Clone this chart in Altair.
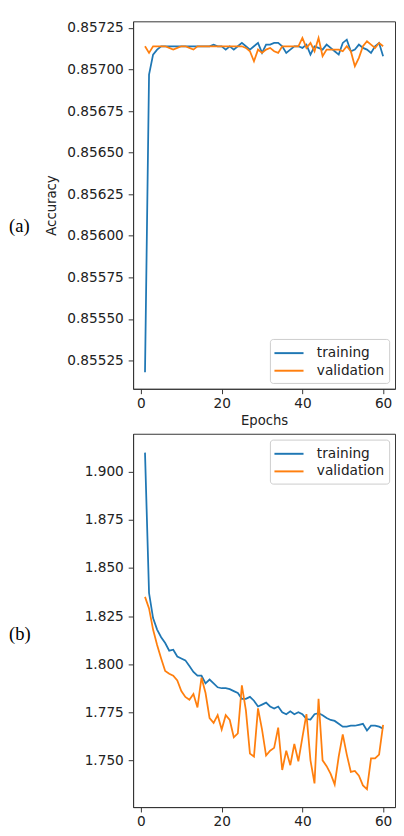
import altair as alt
import pandas as pd

epochs = list(range(1, 61))

train_acc = [0.85518, 0.85697, 0.85709, 0.85712, 0.85714, 0.85714, 0.85714, 0.85714, 0.85714, 0.85714,
             0.85714, 0.85714, 0.85714, 0.85714, 0.85714, 0.85714, 0.85714, 0.85715, 0.85714, 0.85714,
             0.85712, 0.85714, 0.85712, 0.85714, 0.85716, 0.85714, 0.85712, 0.85714, 0.85716, 0.85710,
             0.85715, 0.85715, 0.85716, 0.85716, 0.85714, 0.85710, 0.85712, 0.85714, 0.85714, 0.85713,
             0.85715, 0.85709, 0.85714, 0.85713, 0.85712, 0.85715, 0.85713, 0.85711, 0.85709, 0.85716,
             0.85718, 0.85711, 0.85712, 0.85715, 0.85713, 0.85712, 0.85710, 0.85714, 0.85716, 0.85708]
val_acc = [0.85714, 0.85710, 0.85714, 0.85714, 0.85714, 0.85714, 0.85713, 0.85712, 0.85713, 0.85714,
           0.85714, 0.85713, 0.85712, 0.85714, 0.85714, 0.85714, 0.85714, 0.85714, 0.85714, 0.85714,
           0.85714, 0.85714, 0.85714, 0.85714, 0.85714, 0.85713, 0.85711, 0.85705, 0.85712, 0.85710,
           0.85712, 0.85713, 0.85711, 0.85710, 0.85714, 0.85714, 0.85714, 0.85714, 0.85714, 0.85719,
           0.85713, 0.85716, 0.85711, 0.85719, 0.85708, 0.85712, 0.85712, 0.85712, 0.85712, 0.85711,
           0.85714, 0.85711, 0.85702, 0.85707, 0.85714, 0.85717, 0.85715, 0.85713, 0.85716, 0.85714]

train_loss = [1.910, 1.837, 1.824, 1.818, 1.814, 1.811, 1.807, 1.8075, 1.804, 1.803,
              1.802, 1.799, 1.796, 1.794, 1.794, 1.790, 1.792, 1.790, 1.788, 1.7875,
              1.7875, 1.787, 1.786, 1.785, 1.782, 1.782, 1.783, 1.781, 1.778, 1.779,
              1.780, 1.778, 1.777, 1.778, 1.775, 1.774, 1.7755, 1.774, 1.775, 1.774,
              1.7715, 1.7712, 1.774, 1.7745, 1.7735, 1.772, 1.771, 1.7705, 1.769, 1.7675,
              1.7675, 1.768, 1.768, 1.7685, 1.769, 1.7655, 1.768, 1.768, 1.7675, 1.7665]
val_loss = [1.835, 1.829, 1.818, 1.810, 1.803, 1.7965, 1.795, 1.794, 1.7915, 1.786,
            1.783, 1.7815, 1.7845, 1.7775, 1.793, 1.785, 1.772, 1.7695, 1.7735, 1.766,
            1.7735, 1.771, 1.762, 1.764, 1.789, 1.776, 1.7535, 1.752, 1.777, 1.766,
            1.7525, 1.755, 1.7565, 1.767, 1.745, 1.755, 1.7475, 1.7585, 1.7495, 1.762,
            1.774, 1.750, 1.738, 1.782, 1.750, 1.747, 1.743, 1.7375, 1.752, 1.7635,
            1.753, 1.744, 1.7445, 1.742, 1.737, 1.735, 1.751, 1.751, 1.753, 1.7685]

series_names = ["training", "validation"]
series_colors = ["#1f77b4", "#ff7f0e"]
acc_ticks = [0.85525, 0.8555, 0.85575, 0.856, 0.85625, 0.8565, 0.85675, 0.857, 0.85725]
loss_ticks = [1.75, 1.775, 1.8, 1.825, 1.85, 1.875, 1.9]
x_ticks = [0, 20, 40, 60]
panel_labels = ["(a)", "(b)"]

acc_df = pd.DataFrame({
    "epoch": epochs + epochs,
    "value": train_acc + val_acc,
    "series": [series_names[0]] * len(epochs) + [series_names[1]] * len(epochs),
})
loss_df = pd.DataFrame({
    "epoch": epochs + epochs,
    "value": train_loss + val_loss,
    "series": [series_names[0]] * len(epochs) + [series_names[1]] * len(epochs),
})

X_DOMAIN = [-1.95, 62.95]
W = 268


def legend(orient):
    return alt.Legend(
        title=None, orient=orient, offset=6, fillColor="white", strokeColor="#cccccc",
        cornerRadius=3, padding=5, symbolType="M-1.75,0H1.75", symbolSize=289,
        symbolOffset=5, symbolStrokeWidth=2, labelFontSize=14, labelFont="DejaVu Sans",
        labelColor="#222", rowPadding=1, labelOffset=19,
    )


def panel(df, y_domain, ticks, fmt, y_title, x_title, leg_orient, label, label_y, height):
    lines = alt.Chart(df).mark_line(strokeWidth=1.8).encode(
        x=alt.X("epoch:Q", scale=alt.Scale(domain=X_DOMAIN, nice=False, zero=False),
                axis=alt.Axis(values=x_ticks, format="d", title=x_title, labelPadding=3,
                              titlePadding=4)),
        y=alt.Y("value:Q", scale=alt.Scale(domain=y_domain, nice=False, zero=False),
                axis=alt.Axis(values=ticks, format=fmt, title=y_title, labelPadding=5,
                              titlePadding=8)),
        color=alt.Color("series:N", scale=alt.Scale(domain=series_names, range=series_colors),
                        legend=legend(leg_orient)),
    )
    txt = alt.Chart(pd.DataFrame({"label": [label]})).mark_text(
        align="left", baseline="middle", font="Liberation Serif", fontSize=19, color="black"
    ).encode(x=alt.value(-127), y=alt.value(label_y), text="label:N")
    return alt.layer(lines, txt).properties(width=W, height=height)


top = panel(acc_df, [0.85508, 0.85729], acc_ticks, ".5f", "Accuracy", "Epochs",
            "bottom-right", panel_labels[0], 210, 376)
bottom = panel(loss_df, [1.7257, 1.9198], loss_ticks, ".3f", None, None,
               "top-right", panel_labels[1], 205, 382)

chart = alt.vconcat(top, bottom, spacing=5).properties(
    padding={"left": 0, "top": 3, "right": 0, "bottom": 0}
).configure_view(stroke="#333", strokeWidth=1).configure_axis(
    grid=False, domainColor="#333", tickColor="#333", labelColor="#222",
    labelFont="DejaVu Sans", labelFontSize=14, titleFont="DejaVu Sans",
    titleFontSize=13.5, titleFontWeight="normal", titleColor="#222", tickSize=5,
)

chart.save("out.html", embed_options={"renderer": "svg", "actions": False})
